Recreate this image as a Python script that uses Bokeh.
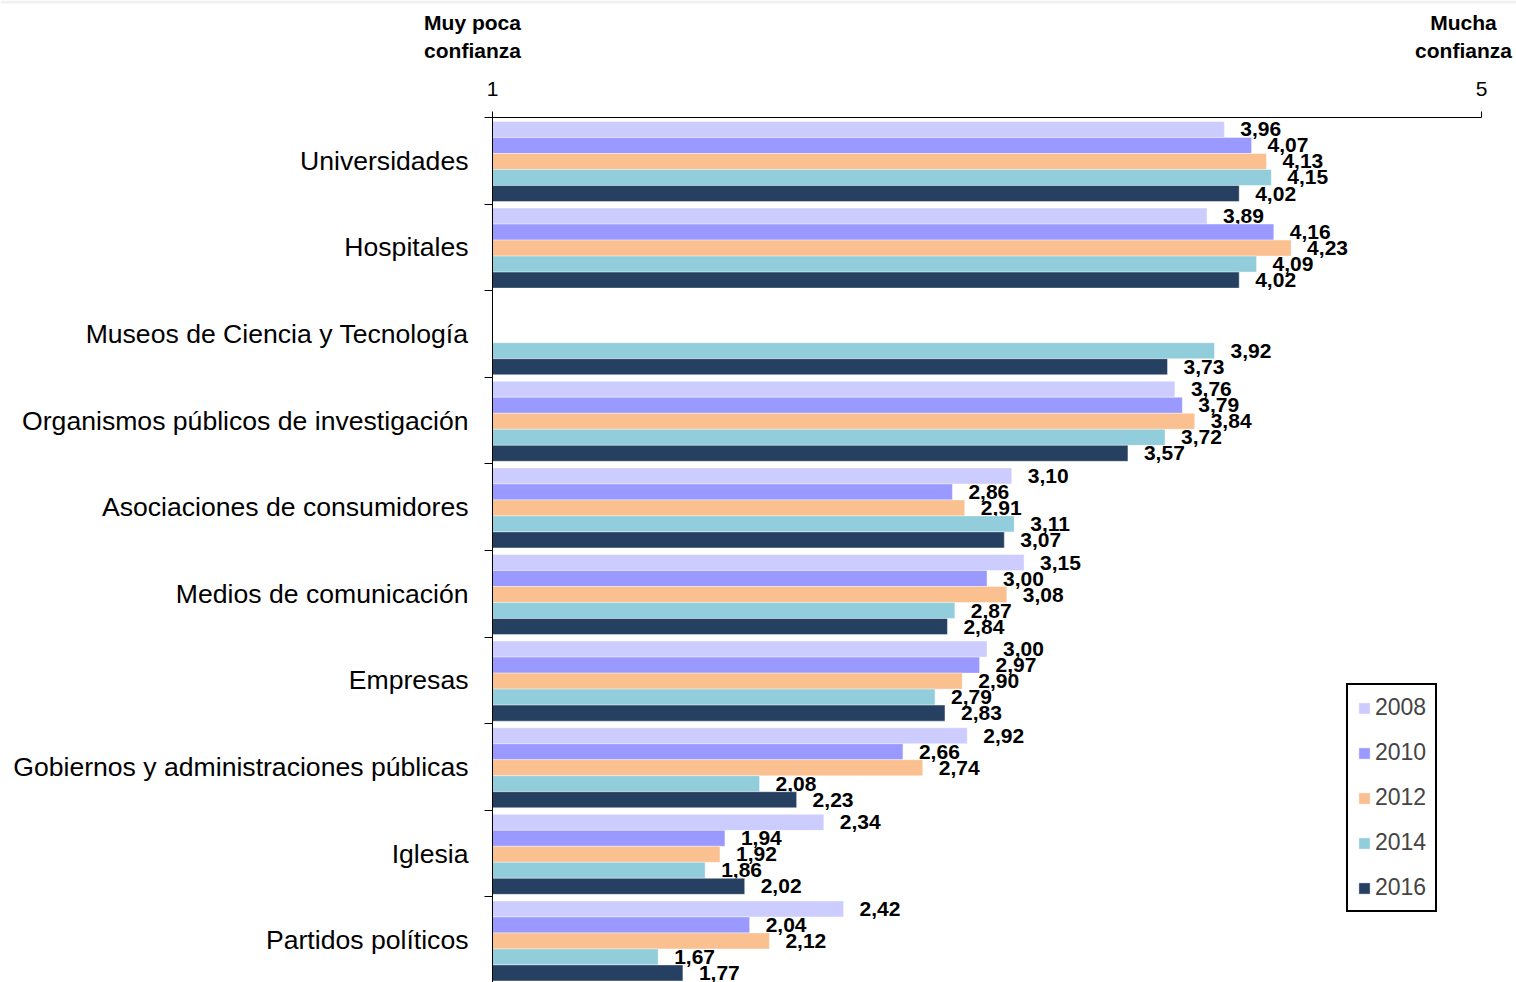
from bokeh.plotting import figure
from bokeh.layouts import column
from bokeh.models import Range1d, FixedTicker, Legend, LegendItem, ColumnDataSource, BoxAnnotation
from bokeh.core.properties import value
from bokeh.embed import file_html
from bokeh.resources import INLINE

categories = ["Universidades", "Hospitales", "Museos de Ciencia y Tecnología",
              "Organismos públicos de investigación", "Asociaciones de consumidores",
              "Medios de comunicación", "Empresas", "Gobiernos y administraciones públicas",
              "Iglesia", "Partidos políticos"]
years = ["2008", "2010", "2012", "2014", "2016"]
v2008 = [3.96, 3.89, None, 3.76, 3.10, 3.15, 3.00, 2.92, 2.34, 2.42]
v2010 = [4.07, 4.16, None, 3.79, 2.86, 3.00, 2.97, 2.66, 1.94, 2.04]
v2012 = [4.13, 4.23, None, 3.84, 2.91, 3.08, 2.90, 2.74, 1.92, 2.12]
v2014 = [4.15, 4.09, 3.92, 3.72, 3.11, 2.87, 2.79, 2.08, 1.86, 1.67]
v2016 = [4.02, 4.02, 3.73, 3.57, 3.07, 2.84, 2.83, 2.23, 2.02, 1.77]
series = [v2008, v2010, v2012, v2014, v2016]
colors = ["#CCCCFF", "#9999FF", "#FAC090", "#92CDDC", "#254061"]
x_ticks = [1, 5]
header_left = ["Muy poca", "confianza"]
header_right = ["Mucha", "confianza"]

FONT = "Liberation Sans"
n = len(categories)
bar_h = 0.1848

# ---- header strip (texts above the axis, outside the plot frame) ----
hdr = figure(width=1516, height=70, output_backend="svg", toolbar_location=None,
             x_range=Range1d(0, 1516), y_range=Range1d(70, 0),
             x_axis_type=None, y_axis_type=None,
             min_border_left=0, min_border_right=0, min_border_top=0, min_border_bottom=0)
hdr.frame_align = False
hdr.outline_line_color = None
hdr.xgrid.visible = False
hdr.ygrid.visible = False
hdr.add_layout(BoxAnnotation(top=0, bottom=3, fill_color="#F0F0F0", fill_alpha=1,
                             line_color=None))
hdr_src = ColumnDataSource(dict(
    x=[472, 472, 1463, 1463],
    y=[22, 50, 22, 50],
    t=header_left + header_right))
hdr.text(x="x", y="y", text="t", source=hdr_src, text_align="center",
         text_baseline="middle", text_font=value(FONT), text_font_style="bold",
         text_font_size="21px", text_color="black")

# ---- main chart ----
p = figure(width=1516, height=912, output_backend="svg", toolbar_location=None,
           x_range=Range1d(1, 5), y_range=Range1d(9.988, 0),
           x_axis_location="above",
           min_border_left=492, min_border_right=35, min_border_top=47, min_border_bottom=0)
p.frame_align = False
p.outline_line_color = None
p.xgrid.visible = False
p.ygrid.visible = False

xa = p.xaxis[0]
xa.ticker = FixedTicker(ticks=x_ticks)
xa.major_tick_out = 6
xa.major_tick_in = 0
xa.minor_tick_out = 0
xa.minor_tick_in = 0
xa.major_label_text_font_size = "21px"
xa.major_label_text_font = FONT
xa.major_label_text_color = "black"
xa.major_label_standoff = 16
xa.axis_line_color = "black"
xa.major_tick_line_color = "black"

ya = p.yaxis[0]
centers = [i + 0.5 for i in range(n)]
ya.ticker = FixedTicker(ticks=centers, minor_ticks=list(range(n + 1)))
ya.major_label_overrides = {c: name for c, name in zip(centers, categories)}
ya.major_tick_out = 0
ya.major_tick_in = 0
ya.minor_tick_out = 8
ya.minor_tick_in = 0
ya.minor_tick_line_color = "black"
ya.axis_line_color = "black"
ya.major_label_text_font_size = "26.6px"
ya.major_label_text_font = FONT
ya.major_label_text_color = "black"
ya.major_label_standoff = 16

items = []
for j, (yr, vals, col) in enumerate(zip(years, series, colors)):
    ys, rs, labs = [], [], []
    for i, v in enumerate(vals):
        if v is None:
            continue
        ys.append(i + 0.5 + (j - 2) * bar_h + 0.008)
        rs.append(v)
        labs.append(f"{v:.2f}".replace(".", ","))
    src = ColumnDataSource(dict(y=ys, right=rs, lab=labs))
    r = p.hbar(y="y", left=1, right="right", height=bar_h, source=src,
               fill_color=col, line_color="white", line_width=0.8, line_alpha=0.5)
    p.text(x="right", y="y", text="lab", source=src, x_offset=16, y_offset=0,
           text_align="left", text_baseline="middle", text_font=value(FONT),
           text_font_style="bold", text_font_size="21px", text_color="black")
    items.append(LegendItem(label=yr, renderers=[r]))

legend = Legend(items=items, location=(854, 70), glyph_width=14, glyph_height=14,
                label_text_font_size="23px", label_text_font=FONT, label_height=24,
                spacing=18, padding=9, margin=0, border_line_color="black",
                border_line_width=2, border_line_alpha=1, label_standoff=4,
                background_fill_color="white", background_fill_alpha=1)
p.add_layout(legend)

layout = column(hdr, p, spacing=0)
open("out.html", "w").write(file_html(layout, INLINE))
